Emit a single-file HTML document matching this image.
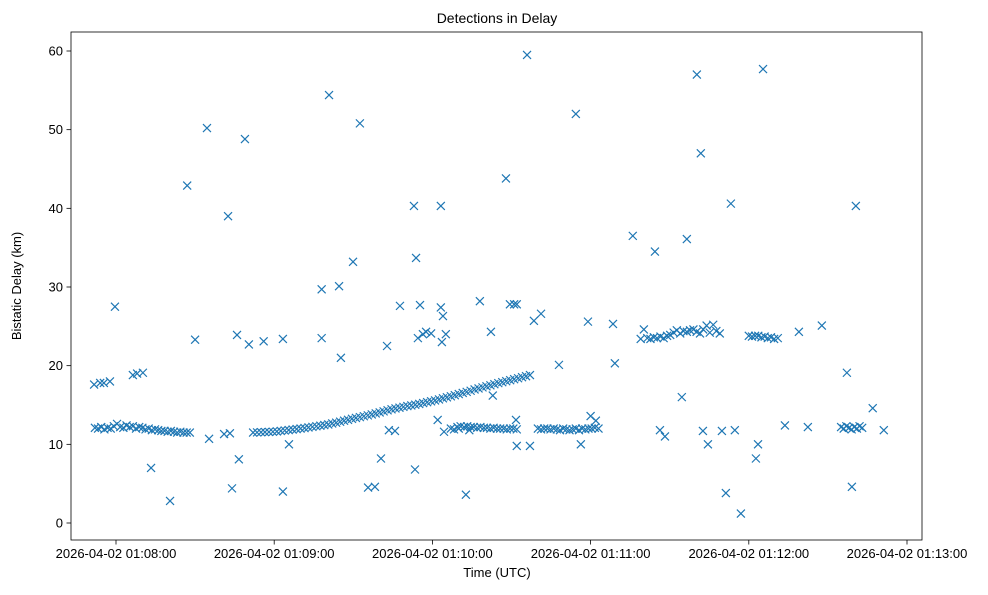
<!DOCTYPE html>
<html><head><meta charset="utf-8"><style>
body{margin:0;background:#fff}
svg text{font-family:"Liberation Sans","DejaVu Sans",sans-serif;fill:#000}
</style></head><body>
<svg id="chart" width="988" height="590" xmlns="http://www.w3.org/2000/svg">
<rect width="988" height="590" fill="#fff"/>
<text x="497" y="23" font-size="14" text-anchor="middle">Detections in Delay</text>
<g id="marks"></g>
<g id="axes"></g>
<rect x="71" y="32" width="851" height="508" fill="none" stroke="#000" stroke-width="0.8"/>
<text x="497" y="577" font-size="13" text-anchor="middle">Time (UTC)</text>
<text transform="translate(21,286) rotate(-90)" font-size="13" text-anchor="middle">Bistatic Delay (km)</text>
</svg>
<script>
// seconds after 01:08:00
const outlierTimes=[-8.3,-6,-4.6,-2.3,-0.4,6.4,8,10.2,13.3,20.5,27,30,34.5,35.3,41,42.5,43.2,44,45.9,46.6,48.9,50.4,56,63.3,63.3,65.6,78,78,80.8,84.6,85.3,89.9,92.5,95.6,98.2,100.5,102.8,103.5,105.8,107.7,113,113.4,113.8,114.5,115.3,116.4,117.6,119.5,122,123.2,123.2,123.6,124,124.4,125.1,130,132.7,134,138,142.2,142.9,147.9,149.4,151,152,152,151.7,155.9,157,158.5,161.2,168,174.4,176.3,179,180,182,188.5,189.2,196,204.4,206.3,208.2,214.6,216.5,220.3,221.8,222.6,224.5,229.8,231.3,233.2,234.7,237,242.7,243.5,245.4,253.7,259,262.4,267.7,277.2,279.1,280.6,287,291.2];
const outlierDelays=[17.6,17.8,17.8,18,27.5,18.8,19,19.1,7,2.8,42.9,23.3,50.2,10.7,11.3,39,11.4,4.4,23.9,8.1,48.8,22.7,23.1,23.4,4,10,23.5,29.7,54.4,30.1,21,33.2,50.8,4.5,4.6,8.2,22.5,11.8,11.7,27.6,40.3,6.8,33.7,23.5,27.7,24,24.3,24.1,13.1,40.3,27.4,23,26.3,11.6,24,12,3.6,11.8,28.2,24.3,16.2,43.8,27.8,27.8,27.8,9.8,13.1,59.5,9.8,25.7,26.6,20.1,52,10,25.6,13.6,13,25.3,20.3,36.5,34.5,11.8,11,16,36.1,57,47,11.7,10,11.7,3.8,40.6,11.8,1.2,8.2,10,57.7,12.4,24.3,12.2,25.1,19.1,4.6,40.3,14.6,11.8];
const bandATimes=[-8,-6.8,-5.6,-4.4,-3.2,-2,-0.8,0.4,1.6,2.8,4,5.2,6.4,7.6,8.8,10,11.2,12.4,13.6,14.8,16,17.2,18.4,19.6,20.8,22,23.2,24.4,25.6,26.8,28];
const bandADelays=[12.1,12,12.2,11.9,12.1,12,12.3,12.6,12.2,12.1,12.4,12.2,12.3,12,12.2,12.1,11.9,12,11.8,11.9,11.8,11.7,11.7,11.6,11.7,11.6,11.5,11.6,11.5,11.5,11.5];
const curveTimes=[52,53.5,55,56.5,58,59.5,61,62.5,64,65.5,67,68.5,70,71.5,73,74.5,76,77.5,79,80.5,82,83.5,85,86.5,88,89.5,91,92.5,94,95.5,97,98.5,100,101.5,103,104.5,106,107.5,109,110.5,112,113.5,115,116.5,118,119.5,121,122.5,124,125.5,127,128.5,130,131.5,133,134.5,136,137.5,139,140.5,142,143.5,145,146.5,148,149.5,151,152.5,154,155.5,157];
const curveDelays=[11.5,11.52,11.54,11.56,11.58,11.6,11.64,11.7,11.76,11.82,11.88,11.94,12,12.07,12.15,12.22,12.3,12.37,12.45,12.53,12.65,12.75,12.88,13,13.12,13.24,13.35,13.46,13.57,13.68,13.8,13.93,14.06,14.19,14.32,14.45,14.56,14.66,14.76,14.86,14.95,15.04,15.14,15.25,15.36,15.47,15.58,15.71,15.85,15.98,16.11,16.25,16.39,16.53,16.67,16.81,16.98,17.11,17.24,17.37,17.5,17.64,17.78,17.9,18.03,18.15,18.28,18.4,18.53,18.66,18.8];
const bandBTimes=[127,128.2,129.5,130.7,132,133.2,134.5,135.7,137,138.2,139.5,140.7,142,143.2,144.5,145.7,147,148.2,149.5,150.7,152];
const bandBDelays=[12,11.9,12.2,12.3,12.2,12.3,12.2,12.2,12.1,12.2,12.1,12.1,12,12.1,12,12,12,11.9,12,12,11.9];
const bandCTimes=[160,161.2,162.4,163.6,164.8,166,167.2,168.4,169.6,170.8,172,173.2,174.4,175.6,176.8,178,179.2,180.4,181.6,183];
const bandCDelays=[12,11.9,12,12,11.9,12,11.9,11.8,12,11.9,11.8,11.9,12,11.8,12,11.9,12,12,12.1,12];
const bandDTimes=[199,200.2,201.5,202.7,204,205.2,206.5,207.7,209,210.2,211.5,212.7,214,215.2,216.5,217.7,219,220.2,221.5,222.7,224,225.2,226.5,227.7,229];
const bandDDelays=[23.4,24.6,23.5,23.4,23.6,23.5,23.7,23.5,23.8,23.9,24.2,24.5,24.1,24.4,24.3,24.5,24.6,24.3,24.1,24.6,25.1,24.2,25.2,24.4,24.1];
const bandETimes=[240,241.2,242.4,243.6,244.8,246,247.2,248.4,249.6,251];
const bandEDelays=[23.8,23.7,23.8,23.8,23.6,23.7,23.5,23.6,23.4,23.5];
const bandFTimes=[275,276,277,278,279,280,281,282,283];
const bandFDelays=[12.2,12,12.3,12.1,11.9,12.2,12,12.3,12.1];
const yTicks=[0,10,20,30,40,50,60];
const xTickSecs=[0,60,120,180,240,300];
const xTickLabels=["2026-04-02 01:08:00","2026-04-02 01:09:00","2026-04-02 01:10:00","2026-04-02 01:11:00","2026-04-02 01:12:00","2026-04-02 01:13:00"];

const NS="http://www.w3.org/2000/svg";
function xs(s){return 116+s*(791/300);}
function ys(v){return 523-v*(472/60);}
const marks=document.getElementById('marks');
const axes=document.getElementById('axes');
function mk(tag,attrs,parent){const e=document.createElementNS(NS,tag);for(const k in attrs)e.setAttribute(k,attrs[k]);parent.appendChild(e);return e;}
function plot(ts,vs,name){
  for(let i=0;i<ts.length;i++){
    const cx=xs(ts[i]),cy=ys(vs[i]),r=4;
    const p=mk('path',{d:`M${cx-r},${cy-r}L${cx+r},${cy+r}M${cx-r},${cy+r}L${cx+r},${cy-r}`,stroke:'#1f77b4','stroke-width':'1.2',fill:'none'},marks);
    
    
  }
}
plot(outlierTimes,outlierDelays,'outlier');
plot(bandATimes,bandADelays,'band-a');
plot(curveTimes,curveDelays,'curve');
plot(bandBTimes,bandBDelays,'band-b');
plot(bandCTimes,bandCDelays,'band-c');
plot(bandDTimes,bandDDelays,'band-d');
plot(bandETimes,bandEDelays,'band-e');
plot(bandFTimes,bandFDelays,'band-f');
yTicks.forEach(v=>{
  const y=ys(v);
  const l=mk('line',{x1:66.5,x2:71,y1:y,y2:y,stroke:'#000','stroke-width':'0.8'},axes);
  
  
  const t=mk('text',{x:63,y:y+4.5,'font-size':'13','text-anchor':'end'},axes);
  t.textContent=v;
  
  
});
xTickSecs.forEach((s,i)=>{
  const x=xs(s);
  const l=mk('line',{x1:x,x2:x,y1:540,y2:544.5,stroke:'#000','stroke-width':'0.8'},axes);
  
  
  const t=mk('text',{x:x,y:558,'font-size':'13','text-anchor':'middle'},axes);
  t.textContent=xTickLabels[i];
  
  
});
</script>
</body></html>
